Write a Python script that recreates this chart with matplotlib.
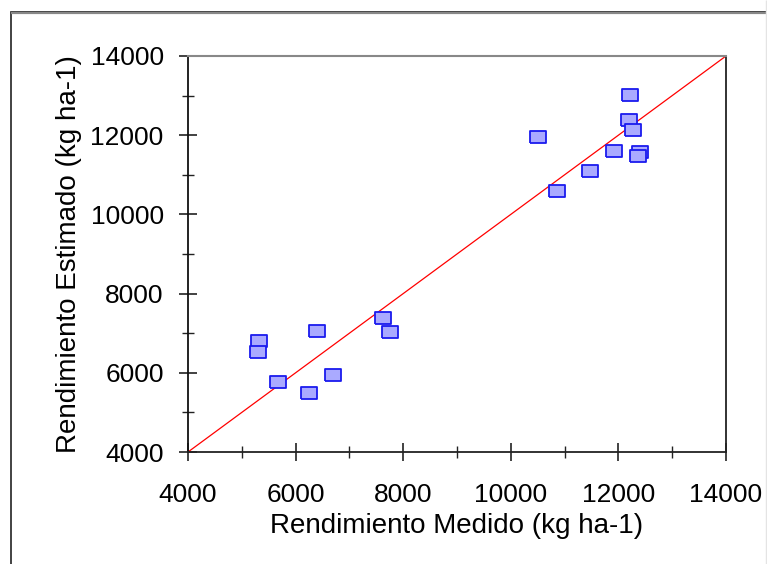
import matplotlib
matplotlib.use("Agg")
import matplotlib.pyplot as plt
from matplotlib.patches import Rectangle
from matplotlib.ticker import MultipleLocator

plt.rcParams['font.family'] = ['Liberation Sans', 'DejaVu Sans']

medido = [10510, 12220, 12200, 12280, 11910, 12410, 12370, 11470, 10850,
          5320, 5310, 6400, 5670, 6240, 6690, 7750, 7630]
estimado = [11950, 13010, 12390, 12140, 11590, 11580, 11470, 11090, 10590,
            6810, 6520, 7060, 5770, 5490, 5940, 7040, 7390]

linea = [4000, 14000]
ticks = [4000, 6000, 8000, 10000, 12000, 14000]

fig = plt.figure(figsize=(7.67, 5.64), dpi=100)

# outer frame of the original (cropped on the right/bottom)
fig.patches.append(Rectangle((11 / 767, -0.05), 1.2, (564 - 12) / 564 + 0.05,
                             transform=fig.transFigure, fill=False,
                             edgecolor='#222222', linewidth=1.2))
fig.patches.append(Rectangle((11 / 767, (564 - 12.5) / 564), 1.2, 0.0,
                             transform=fig.transFigure, fill=False,
                             edgecolor='#888888', linewidth=1.5))
fig.patches.append(Rectangle((765.5 / 767, 0), 0, 1,
                             transform=fig.transFigure, fill=False,
                             edgecolor='#e4e4e4', linewidth=1.0))

ax = fig.add_axes([188 / 767, (564 - 452) / 564, 538 / 767, 396 / 564])

ax.plot(linea, linea, color='red', linewidth=0.9, zorder=2)

rect = [(-1, -0.76), (1, -0.76), (1, 0.76), (-1, 0.76), (-1, -0.76)]
ax.scatter(medido, estimado, marker=rect, s=12.2 ** 2, facecolor='#aaaaff',
           edgecolor='#1a1aee', linewidth=1.3, zorder=3)

ax.set_xlim(4000, 14000)
ax.set_ylim(4000, 14000)
ax.set_xticks(ticks)
ax.set_yticks(ticks)
ax.xaxis.set_minor_locator(MultipleLocator(1000))
ax.yaxis.set_minor_locator(MultipleLocator(1000))
ax.tick_params(which='major', direction='inout', length=13, width=1.2,
               labelsize=19, color='#222222')
ax.tick_params(which='minor', direction='inout', length=8, width=1.0,
               color='#222222')
ax.tick_params(axis='x', pad=16)
ax.tick_params(axis='y', pad=11)

ax.spines['top'].set_color('#888888')
ax.spines['top'].set_linewidth(1.5)
ax.spines['right'].set_color('#222222')
ax.spines['left'].set_color('#111111')
ax.spines['bottom'].set_color('#222222')
for s in ax.spines.values():
    if s is not ax.spines['top']:
        s.set_linewidth(1.3)

ax.set_xlabel('Rendimiento Medido (kg ha-1)', fontsize=20, labelpad=4)
ax.set_ylabel('Rendimiento Estimado (kg ha-1)', fontsize=20, labelpad=6)

fig.savefig('out.png', dpi=100)
